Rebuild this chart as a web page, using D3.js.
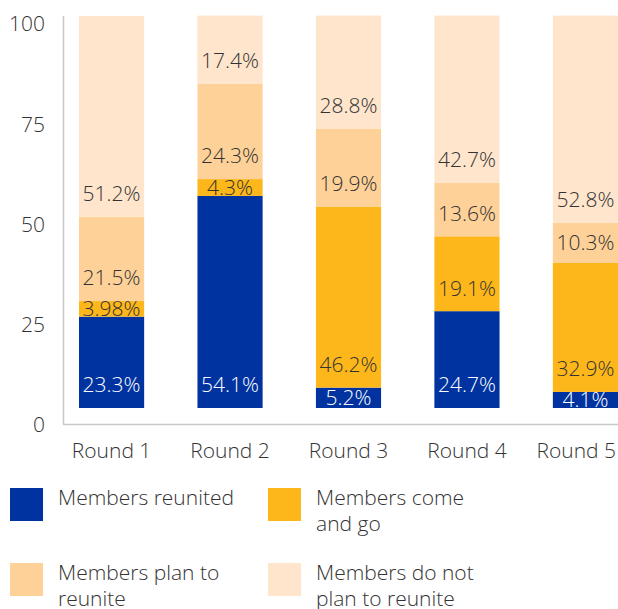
<!DOCTYPE html>
<meta charset="utf-8">
<style>

body {
  margin: 0;
  font-family: "Open Sans", sans-serif;
  font-weight: 300;
  background: #fff;
}

.axis text {
  fill: #333;
  font-size: 21px;
}

.value {
  font-size: 21px;
}

.legend text {
  fill: #333;
  font-size: 21px;
}

</style>
<body>
<script src="https://cdn.jsdelivr.net/npm/d3@7"></script>
<script>

var rounds = ["Round 1", "Round 2", "Round 3", "Round 4", "Round 5"];
var series = ["Members reunited", "Members come and go", "Members plan to reunite", "Members do not plan to reunite"];
var reunited = [23.3, 54.1, 5.2, 24.7, 4.1];
var comeAndGo = [3.98, 4.3, 46.2, 19.1, 32.9];
var planTo = [21.5, 24.3, 19.9, 13.6, 10.3];
var notPlan = [51.2, 17.4, 28.8, 42.7, 52.8];
var yTicks = [0, 25, 50, 75, 100];

var legendLines = [["Members reunited"], ["Members come", "and go"], ["Members plan to", "reunite"], ["Members do not", "plan to reunite"]];
var colors = ["#0033a0", "#fdb71a", "#fed198", "#fee5cc"];

var width = 618, height = 609;

var svg = d3.select("body").append("svg")
    .attr("width", width)
    .attr("height", height);

var x = d3.scaleBand().domain(rounds).range([63, 634]).paddingInner(0.45).paddingOuter(0.135);
var y = d3.scaleLinear().domain([0, 100]).range([408, 16]);
var yAxisScale = d3.scaleLinear().domain([0, 100]).range([425, 24]);

var rows = rounds.map(function(r, i) {
  return { round: r, v: [reunited[i], comeAndGo[i], planTo[i], notPlan[i]] };
});

// axis lines
svg.append("line")
    .attr("x1", 63.5).attr("x2", 63.5)
    .attr("y1", y(100)).attr("y2", 424.5)
    .attr("stroke", "#c8c8c8").attr("stroke-width", 1.5);
svg.append("line")
    .attr("x1", 63).attr("x2", width)
    .attr("y1", 424.5).attr("y2", 424.5)
    .attr("stroke", "#c8c8c8").attr("stroke-width", 1.5);

var yAxis = svg.append("g").attr("class", "axis");
yAxis.selectAll("text")
    .data(yTicks)
  .enter().append("text")
    .attr("x", 45)
    .attr("y", function(d) { return yAxisScale(d); })
    .attr("dy", ".35em")
    .attr("text-anchor", "end")
    .text(function(d) { return d; });

var xAxis = svg.append("g").attr("class", "axis");
xAxis.selectAll("text")
    .data(rounds)
  .enter().append("text")
    .attr("x", function(d) { return x(d) + x.bandwidth() / 2; })
    .attr("y", 458)
    .attr("text-anchor", "middle")
    .text(function(d) { return d; })
    .each(function() {
      // keep the last label inside the picture
      var w = this.getComputedTextLength(), cx = +this.getAttribute("x");
      if (cx + w / 2 > width - 2) d3.select(this).attr("x", width - 2 - w / 2);
    });

var bar = svg.selectAll("g.bar")
    .data(rows)
  .enter().append("g")
    .attr("class", "bar")
    .attr("transform", function(d) { return "translate(" + x(d.round) + ",0)"; });

var segs = bar.selectAll("g.seg")
    .data(function(d) {
      var acc = 0;
      return d.v.map(function(v, k) {
        var s = { k: k, v: v, y0: acc, y1: acc + v };
        acc += v;
        return s;
      });
    })
  .enter().append("g")
    .attr("class", "seg");

segs.append("rect")
    .attr("y", function(d) { return y(d.y1); })
    .attr("width", x.bandwidth())
    .attr("height", function(d) { return y(d.y0) - y(d.y1); })
    .attr("fill", function(d) { return colors[d.k]; });

segs.append("text")
    .attr("class", "value")
    .attr("x", x.bandwidth() / 2)
    .attr("y", function(d) {
      var bottom = y(d.y0), top = y(d.y1);
      return Math.max(bottom - 23, (top + bottom) / 2);
    })
    .attr("dy", ".35em")
    .attr("text-anchor", "middle")
    .attr("fill", function(d) { return d.k === 0 ? "#fff" : "#333"; })
    .text(function(d) { return d.v + "%"; });

// legend
var legend = svg.selectAll("g.legend")
    .data(series)
  .enter().append("g")
    .attr("class", "legend")
    .attr("transform", function(d, i) {
      return "translate(" + (i % 2 ? 268 : 10) + "," + (i < 2 ? 488 : 563) + ")";
    });

legend.append("rect")
    .attr("width", 33)
    .attr("height", 33)
    .attr("fill", function(d, i) { return colors[i]; });

legend.append("text")
    .attr("y", 17)
    .selectAll("tspan")
    .data(function(d, i) { return legendLines[i]; })
  .enter().append("tspan")
    .attr("x", 48)
    .attr("dy", function(d, j) { return j ? 26 : 0; })
    .text(function(d) { return d; });

</script>
